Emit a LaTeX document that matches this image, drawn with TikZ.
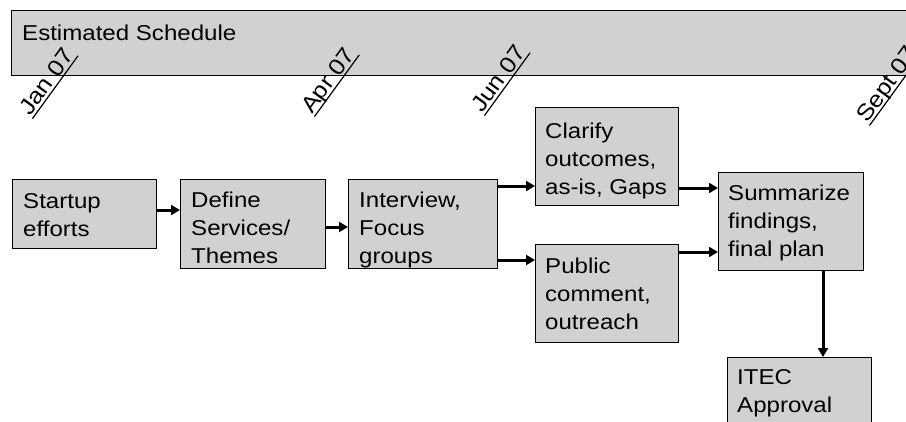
\documentclass[tikz,border=0pt]{standalone}
\usepackage{fontspec}
\setmainfont{Liberation Sans}[FakeStretch=1.12]
\usetikzlibrary{arrows.meta}
\definecolor{boxgray}{gray}{0.82}
\tikzset{
  x=1pt, y=-1pt,
  stepbox/.style={draw=black, line width=1.4pt, fill=boxgray, inner sep=0pt},
  boxtext/.style={anchor=base west, inner sep=0pt, align=left,
    font=\fontsize{21.5}{28}\selectfont},
  datelabel/.style={anchor=base west, inner sep=0pt, rotate=54,
    font=\fontsize{22.5}{26}\selectfont},
  flow/.style={line width=3pt, -{Triangle[length=9pt,width=10pt]}},
}
% month text with a rule a little under its baseline
\newcommand{\dateul}[1]{\setbox0\hbox{#1}\rlap{\rule[-3.5pt]{\dimexpr\wd0+2pt\relax}{1.2pt}}\box0}
\begin{document}
\begin{tikzpicture}
\useasboundingbox (0,0) rectangle (906,421);

% schedule banner
\node[stepbox, anchor=north west, minimum width=920pt, minimum height=65pt] (banner) at (11,10) {};
\node[boxtext] (bannertext) at (22,40) {Estimated Schedule};

% month marks
\node[datelabel] (jan) at (30,117) {\dateul{Jan 07}};
\node[datelabel] (apr) at (312,115) {\dateul{Apr 07}};
\node[datelabel] (jun) at (482,114) {\dateul{Jun 07}};
\node[datelabel] (sep) at (867,124) {\dateul{Sept 07}};

% process boxes
\node[stepbox, anchor=north west, minimum width=144pt, minimum height=69pt] (startup) at (12,179) {};
\node[stepbox, anchor=north west, minimum width=145pt, minimum height=89pt] (define) at (180,179) {};
\node[stepbox, anchor=north west, minimum width=149pt, minimum height=89pt] (interview) at (348,179) {};
\node[stepbox, anchor=north west, minimum width=143pt, minimum height=98pt] (clarify) at (535,107) {};
\node[stepbox, anchor=north west, minimum width=143pt, minimum height=98pt] (public) at (535,244) {};
\node[stepbox, anchor=north west, minimum width=145pt, minimum height=98pt] (summarize) at (718,172) {};
\node[stepbox, anchor=north west, minimum width=144pt, minimum height=90pt] (itec) at (727,357) {};

% box captions (anchored on the baseline of their last line)
\node[boxtext] at (23,236) {Startup\\efforts};
\node[boxtext] at (191,263) {Define\\Services/\\Themes};
\node[boxtext] at (359,263) {Interview,\\Focus\\groups};
\node[boxtext] at (545,194) {Clarify\\outcomes,\\as-is, Gaps};
\node[boxtext] at (545,329) {Public\\comment,\\outreach};
\node[boxtext] at (728,256) {Summarize\\findings,\\final plan};
\node[boxtext] at (737,412) {ITEC\\Approval};

% flow arrows
\draw[flow] (startup.east |- 0,210) -- (define.west |- 0,210);
\draw[flow] (define.east |- 0,227) -- (interview.west |- 0,227);
\draw[flow] (interview.east |- 0,186) -- (clarify.west |- 0,186);
\draw[flow] (interview.east |- 0,260) -- (public.west |- 0,260);
\draw[flow] (clarify.east |- 0,188) -- (summarize.west |- 0,188);
\draw[flow] (public.east |- 0,252) -- (summarize.west |- 0,252);
\draw[flow] (summarize.south -| 823,0) -- (itec.north -| 823,0);
\end{tikzpicture}
\end{document}
